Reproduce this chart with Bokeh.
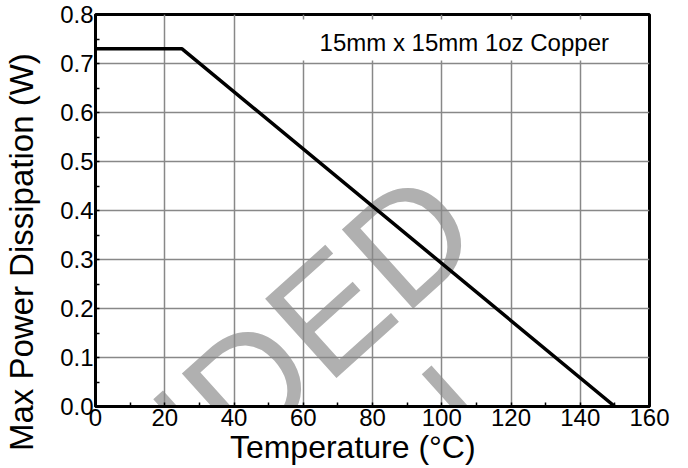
from bokeh.plotting import figure
from bokeh.models import (Range1d, SingleIntervalTicker, FixedTicker, PrintfTickFormatter,
                          Label, BoxAnnotation, LinearAxis)
from bokeh.embed import file_html
from bokeh.resources import INLINE

# ---- data ----
temperature_c = [0, 25, 150]
max_power_w = [0.73, 0.73, 0.0]
x_ticks = [0, 20, 40, 60, 80, 100, 120, 140, 160]
y_ticks = [0.0, 0.1, 0.2, 0.3, 0.4, 0.5, 0.6, 0.7, 0.8]
x_title = "Temperature (°C)"
y_title = "Max Power Dissipation (W)"
note_text = "15mm x 15mm 1oz Copper"
watermark_lines = ["NOT RECOMMENDED", "FOR NEW DESIGN"]

FONT = "Liberation Sans"

p = figure(frame_width=554, frame_height=392,
           min_border_left=88, min_border_right=30, min_border_top=14, min_border_bottom=53,
           x_range=Range1d(x_ticks[0], x_ticks[-1]), y_range=Range1d(y_ticks[0], y_ticks[-1]),
           output_backend="svg", toolbar_location=None)
p.background_fill_color = "white"
p.border_fill_color = "white"
p.outline_line_color = "black"
p.outline_line_width = 3

# watermark (behind everything)
wm1 = Label(x=103.3, y=0.42, text=watermark_lines[0], angle=42, angle_units="deg",
            text_align="right", text_baseline="alphabetic", text_font=FONT,
            text_font_size="155px", text_color="#b0b0b0", level="image")
wm2 = Label(x=110.0, y=0.02, text=watermark_lines[1], angle=42, angle_units="deg",
            text_align="right", text_baseline="alphabetic", text_font=FONT,
            text_font_size="155px", text_color="#b0b0b0", level="image")
p.add_layout(wm1)
p.add_layout(wm2)

xt = SingleIntervalTicker(interval=20, num_minor_ticks=2)
yt = SingleIntervalTicker(interval=0.1, num_minor_ticks=2)
p.xaxis.ticker = xt
p.yaxis.ticker = yt
p.xgrid.ticker = xt
p.ygrid.ticker = yt
p.yaxis.formatter = PrintfTickFormatter(format="%.1f")

for g in (p.xgrid, p.ygrid):
    g.grid_line_color = "#888888"
    g.grid_line_width = 1.5

for ax in (p.xaxis, p.yaxis):
    ax.axis_line_color = "black"
    ax.axis_line_width = 3
    ax.major_tick_in = 0
    ax.major_tick_out = 0
    ax.minor_tick_in = 4
    ax.minor_tick_out = 0
    ax.minor_tick_line_color = "black"
    ax.minor_tick_line_width = 1.5
    ax.major_label_text_font = FONT
    ax.major_label_text_font_size = "24px"
    ax.major_label_text_color = "black"
p.yaxis.major_label_standoff = 2
p.xaxis.major_label_standoff = 2

# data line
p.line(temperature_c, max_power_w, line_color="black", line_width=3.5)

# note box
box = BoxAnnotation(left=53, right=159.4, top=0.79, bottom=0.706,
                    fill_color="white", fill_alpha=1.0, line_alpha=0)
p.add_layout(box)
note = Label(x=106.5, y=0.743, text=note_text, text_align="center", text_baseline="middle",
             text_font=FONT, text_font_size="24px", text_color="black")
p.add_layout(note)

# axis titles, placed as single labels of outer title axes
x_title_at = 74.3
y_title_at = 0.315
x_title_axis = LinearAxis(ticker=FixedTicker(ticks=[x_title_at]),
                          major_label_overrides={x_title_at: x_title},
                          axis_line_color=None, major_tick_line_color=None,
                          minor_tick_line_color=None, major_tick_in=0, major_tick_out=0,
                          major_label_standoff=0, major_label_text_font=FONT,
                          major_label_text_font_size="32px", major_label_text_color="black")
y_title_axis = LinearAxis(ticker=FixedTicker(ticks=[y_title_at]),
                          major_label_overrides={y_title_at: y_title},
                          major_label_orientation="vertical",
                          axis_line_color=None, major_tick_line_color=None,
                          minor_tick_line_color=None, major_tick_in=0, major_tick_out=0,
                          major_label_standoff=17, major_label_text_font=FONT,
                          major_label_text_font_size="33px", major_label_text_color="black")
p.add_layout(x_title_axis, "below")
p.add_layout(y_title_axis, "left")

open("out.html", "w").write(file_html(p, INLINE))
